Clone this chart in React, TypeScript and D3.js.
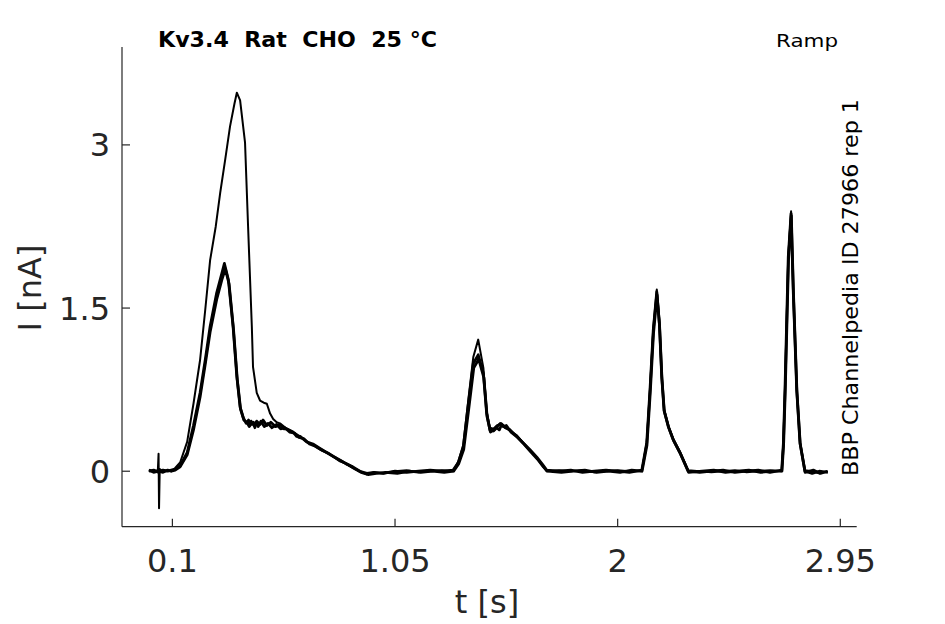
import React from "react";
import * as d3 from "d3";

type Pt = [number, number];

const sweep1: Pt[] = [
  [0.000, 0.01], [0.020, 0.00], [0.038, 0.01], [0.041, 0.16], [0.043, -0.34], [0.046, 0.02],
  [0.060, 0.00], [0.080, 0.01], [0.095, 0.00], [0.112, 0.03], [0.133, 0.08], [0.163, 0.27],
  [0.190, 0.62], [0.218, 1.02], [0.240, 1.48], [0.261, 1.94], [0.285, 2.25], [0.304, 2.56],
  [0.325, 2.86], [0.346, 3.17], [0.365, 3.38], [0.375, 3.48], [0.389, 3.41], [0.410, 3.02],
  [0.423, 2.25], [0.439, 1.33], [0.444, 0.96], [0.460, 0.72], [0.474, 0.65], [0.490, 0.63],
  [0.503, 0.62], [0.517, 0.53], [0.530, 0.48], [0.545, 0.45], [0.559, 0.44], [0.588, 0.39],
  [0.615, 0.36], [0.645, 0.32], [0.673, 0.27], [0.700, 0.24], [0.730, 0.20], [0.760, 0.17],
  [0.790, 0.13], [0.815, 0.09], [0.840, 0.07], [0.870, 0.03], [0.900, 0.00], [0.930, -0.03],
  [0.960, -0.01], [1.000, -0.02], [1.050, 0.00], [1.100, 0.01], [1.150, -0.01], [1.200, 0.00],
  [1.250, 0.01], [1.298, 0.00], [1.320, 0.09], [1.341, 0.24], [1.363, 0.66], [1.384, 1.05],
  [1.405, 1.21], [1.427, 0.95], [1.441, 0.55], [1.455, 0.40], [1.470, 0.39], [1.484, 0.42],
  [1.505, 0.44], [1.520, 0.41], [1.541, 0.37], [1.570, 0.33], [1.597, 0.26], [1.625, 0.19],
  [1.655, 0.12], [1.680, 0.05], [1.697, 0.00], [1.750, 0.01], [1.800, 0.00], [1.850, 0.01],
  [1.900, -0.01], [1.950, 0.00], [2.000, 0.01], [2.050, 0.00], [2.103, 0.00], [2.124, 0.27],
  [2.138, 0.77], [2.152, 1.32], [2.167, 1.67], [2.178, 1.38], [2.188, 0.88], [2.198, 0.57],
  [2.216, 0.42], [2.237, 0.30], [2.266, 0.18], [2.301, 0.01], [2.350, 0.00], [2.400, -0.01],
  [2.450, 0.00], [2.500, 0.01], [2.550, -0.01], [2.600, 0.00], [2.650, 0.01], [2.700, 0.00],
  [2.707, 0.26], [2.714, 0.76], [2.728, 1.98], [2.740, 2.39], [2.749, 1.68], [2.764, 0.76],
  [2.778, 0.27], [2.799, 0.01], [2.830, 0.00], [2.860, -0.02], [2.897, 0.00],
];

const sweep2: Pt[] = [
  [0.000, 0.00], [0.020, 0.01], [0.040, -0.01], [0.060, 0.01], [0.080, 0.00], [0.095, 0.01],
  [0.112, 0.02], [0.133, 0.05], [0.163, 0.17], [0.190, 0.42], [0.218, 0.72], [0.240, 1.02],
  [0.261, 1.33], [0.289, 1.64], [0.311, 1.82], [0.322, 1.91], [0.339, 1.76], [0.359, 1.33],
  [0.375, 0.87], [0.389, 0.59], [0.403, 0.49], [0.415, 0.44], [0.425, 0.47], [0.431, 0.42],
  [0.445, 0.45], [0.452, 0.40], [0.460, 0.46], [0.474, 0.43], [0.487, 0.47], [0.503, 0.42],
  [0.520, 0.45], [0.540, 0.41], [0.559, 0.43], [0.575, 0.39], [0.588, 0.39], [0.615, 0.36],
  [0.630, 0.32], [0.645, 0.32], [0.673, 0.27], [0.700, 0.25], [0.730, 0.21], [0.760, 0.17],
  [0.790, 0.13], [0.815, 0.10], [0.840, 0.07], [0.870, 0.04], [0.900, 0.00], [0.930, -0.02],
  [0.960, -0.01], [1.000, -0.02], [1.050, 0.00], [1.100, -0.01], [1.150, 0.00], [1.200, 0.01],
  [1.250, 0.00], [1.298, 0.01], [1.320, 0.08], [1.341, 0.22], [1.363, 0.62], [1.384, 0.99],
  [1.405, 1.07], [1.427, 0.90], [1.441, 0.53], [1.455, 0.38], [1.470, 0.37], [1.484, 0.40],
  [1.495, 0.38], [1.505, 0.43], [1.520, 0.40], [1.541, 0.38], [1.570, 0.32], [1.597, 0.26],
  [1.625, 0.20], [1.655, 0.13], [1.680, 0.06], [1.697, 0.01], [1.750, 0.00], [1.800, 0.01],
  [1.850, -0.01], [1.900, 0.00], [1.950, 0.01], [2.000, 0.00], [2.050, -0.01], [2.103, 0.01],
  [2.124, 0.26], [2.138, 0.75], [2.152, 1.30], [2.167, 1.65], [2.178, 1.36], [2.188, 0.87],
  [2.198, 0.56], [2.216, 0.41], [2.237, 0.29], [2.266, 0.17], [2.301, 0.00], [2.350, -0.01],
  [2.400, 0.00], [2.450, 0.01], [2.500, -0.01], [2.550, 0.00], [2.600, 0.01], [2.650, -0.01],
  [2.700, 0.01], [2.707, 0.25], [2.714, 0.75], [2.728, 1.97], [2.740, 2.37], [2.749, 1.67],
  [2.764, 0.75], [2.778, 0.26], [2.799, 0.00], [2.830, -0.02], [2.860, 0.00], [2.897, -0.01],
];

const sweep3: Pt[] = [
  [0.000, 0.01], [0.020, -0.01], [0.040, 0.00], [0.060, -0.01], [0.080, 0.01], [0.095, 0.00],
  [0.112, 0.01], [0.133, 0.04], [0.163, 0.15], [0.190, 0.38], [0.218, 0.68], [0.240, 0.98],
  [0.261, 1.28], [0.289, 1.58], [0.311, 1.76], [0.326, 1.86], [0.342, 1.72], [0.361, 1.30],
  [0.377, 0.84], [0.391, 0.57], [0.405, 0.47], [0.418, 0.45], [0.428, 0.41], [0.436, 0.46],
  [0.448, 0.42], [0.456, 0.45], [0.466, 0.41], [0.478, 0.46], [0.492, 0.41], [0.508, 0.44],
  [0.525, 0.40], [0.545, 0.43], [0.562, 0.39], [0.580, 0.40], [0.600, 0.36], [0.622, 0.35],
  [0.640, 0.31], [0.660, 0.30], [0.685, 0.25], [0.710, 0.23], [0.740, 0.19], [0.770, 0.16],
  [0.800, 0.12], [0.825, 0.09], [0.850, 0.06], [0.880, 0.02], [0.905, -0.01], [0.935, -0.03],
  [0.970, -0.02], [1.010, -0.01], [1.060, -0.02], [1.110, 0.00], [1.160, -0.01], [1.210, 0.00],
  [1.260, -0.01], [1.300, 0.00], [1.322, 0.07], [1.343, 0.20], [1.365, 0.58], [1.386, 0.95],
  [1.407, 1.03], [1.429, 0.86], [1.443, 0.50], [1.457, 0.36], [1.472, 0.38], [1.486, 0.41],
  [1.500, 0.44], [1.512, 0.41], [1.525, 0.42], [1.545, 0.36], [1.573, 0.31], [1.600, 0.25],
  [1.628, 0.18], [1.658, 0.11], [1.683, 0.04], [1.700, 0.00], [1.760, -0.01], [1.810, 0.00],
  [1.860, 0.01], [1.910, -0.01], [1.960, 0.00], [2.010, -0.01], [2.060, 0.01], [2.104, 0.00],
  [2.125, 0.24], [2.139, 0.72], [2.153, 1.27], [2.168, 1.62], [2.179, 1.33], [2.189, 0.85],
  [2.199, 0.55], [2.218, 0.40], [2.239, 0.28], [2.268, 0.16], [2.303, -0.01], [2.360, 0.00],
  [2.410, 0.01], [2.460, -0.01], [2.510, 0.00], [2.560, 0.01], [2.610, -0.01], [2.660, 0.00],
  [2.701, 0.00], [2.708, 0.24], [2.715, 0.73], [2.729, 1.94], [2.741, 2.35], [2.750, 1.65],
  [2.765, 0.73], [2.779, 0.25], [2.800, -0.01], [2.835, 0.01], [2.865, -0.02], [2.895, 0.00],
];

const sweeps: Pt[][] = [sweep1, sweep2, sweep3];

const xTicks = [0.1, 1.05, 2, 2.95];
const xTickLabels = ["0.1", "1.05", "2", "2.95"];
const yTicks = [0, 1.5, 3];
const yTickLabels = ["0", "1.5", "3"];

const titleText = "Kv3.4  Rat  CHO  25 °C";
const protocolText = "Ramp";
const sideText = "BBP Channelpedia ID 27966 rep 1";
const xLabel = "t [s]";
const yLabel = "I [nA]";

export default function App() {
  const W = 945;
  const H = 624;
  const left = 122;
  const right = 856.7;
  const top = 47;
  const bottom = 526.7;

  const x = d3.scaleLinear().domain([-0.115, 3.02]).range([left, right]);
  const y = d3.scaleLinear().domain([-0.51, 3.9]).range([bottom, top]);

  const line = d3
    .line<Pt>()
    .x((d) => x(d[0]))
    .y((d) => y(d[1]));

  const axisColor = "#262626";
  const font = "DejaVu Sans, Verdana, sans-serif";
  const tickLen = 8;

  return (
    <svg
      width={W}
      height={H}
      viewBox={`0 0 ${W} ${H}`}
      style={{ position: "absolute", left: 0, top: 0, background: "#fff" }}
      fontFamily={font}
    >
      <rect x={0} y={0} width={W} height={H} fill="#fff" />
      {sweeps.map((s, i) => (
        <path
          key={i}
          d={line(s) || ""}
          fill="none"
          stroke="#000"
          strokeWidth={i === 0 ? 2 : 2.8}
          strokeLinejoin="round"
        />
      ))}
      {/* axes */}
      <line x1={left} x2={left} y1={top} y2={bottom} stroke={axisColor} strokeWidth={1.2} />
      <line x1={left} x2={right} y1={bottom} y2={bottom} stroke={axisColor} strokeWidth={1.2} />
      {xTicks.map((t, i) => (
        <g key={"xt" + i}>
          <line x1={x(t)} x2={x(t)} y1={bottom} y2={bottom - tickLen} stroke={axisColor} strokeWidth={1.2} />
          <text x={x(t)} y={572} textAnchor="middle" fontSize={32} fill={axisColor}>
            {xTickLabels[i]}
          </text>
        </g>
      ))}
      {yTicks.map((t, i) => (
        <g key={"yt" + i}>
          <line x1={left} x2={left + tickLen} y1={y(t)} y2={y(t)} stroke={axisColor} strokeWidth={1.2} />
          <text x={110} y={y(t) + 11.5} textAnchor="end" fontSize={32} fill={axisColor}>
            {yTickLabels[i]}
          </text>
        </g>
      ))}
      <text x={487} y={613} textAnchor="middle" fontSize={32} fill={axisColor}>
        {xLabel}
      </text>
      <text
        transform={`translate(41,288) rotate(-90)`}
        textAnchor="middle"
        fontSize={32}
        fill={axisColor}
      >
        {yLabel}
      </text>
      <text
        x={158}
        y={46.5}
        fontSize={20.5}
        fontWeight="bold"
        fill="#000"
        style={{ whiteSpace: "pre" }}
        textLength={279}
        lengthAdjust="spacingAndGlyphs"
      >
        {titleText}
      </text>
      <text x={776} y={47} fontSize={18} fill="#000" textLength={62} lengthAdjust="spacingAndGlyphs">
        {protocolText}
      </text>
      <text
        transform={`translate(857.5,476) rotate(-90)`}
        fontSize={21.5}
        fill="#000"
        textLength={377}
        lengthAdjust="spacingAndGlyphs"
      >
        {sideText}
      </text>
    </svg>
  );
}
